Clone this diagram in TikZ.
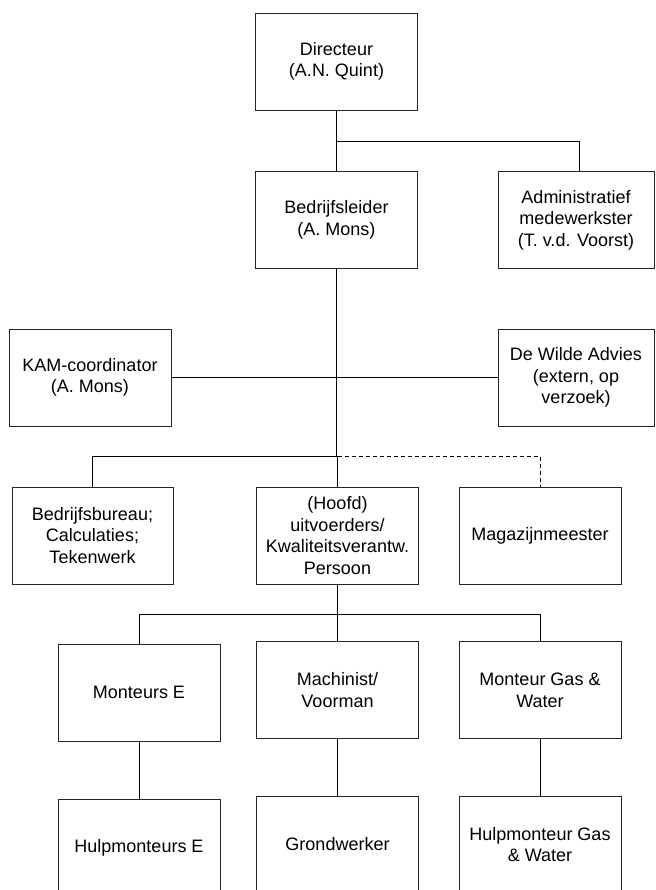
\documentclass[tikz,border=0pt]{standalone}
\usepackage{fontspec}
\setmainfont{Liberation Sans}
\begin{document}
\begin{tikzpicture}[x=1pt,y=-1pt,
  box/.style={draw=black!85, line width=0.9pt, minimum width=162pt, minimum height=97pt,
    align=center, inner sep=0pt, font=\fontsize{18}{21.6}\selectfont},
  conn/.style={draw=black, line width=0.9pt},
  dashconn/.style={draw=black, line width=0.9pt, dash pattern=on 4pt off 3pt}]
\useasboundingbox (0,0) rectangle (655,890);
% boxes
\node[box] (dir) at (336.5,61.5) {Directeur\\(A.N. Quint)};
\node[box] (bl)  at (336.5,220) {Bedrijfsleider\\(A. Mons)};
\node[box, minimum width=156pt] (adm) at (576,220) {Administratief\\medewerkster\\(T. v.d. Voorst)};
\node[box] (kam) at (90,377.5) {KAM-coordinator\\(A. Mons)};
\node[box, minimum width=156pt] (dw) at (576,377.5) {De Wilde Advies\\(extern, op\\verzoek)};
\node[box, minimum width=161pt] (bb) at (92.5,535.5) {Bedrijfsbureau;\\Calculaties;\\Tekenwerk};
\node[box] (hf) at (337.5,535.5) {(Hoofd)\\uitvoerders/\\Kwaliteitsverantw.\\Persoon};
\node[box] (mg) at (540,535.5) {Magazijnmeester};
\node[box] (me) at (139,692.5) {Monteurs E};
\node[box] (ma) at (337.5,690) {Machinist/\\Voorman};
\node[box] (mgw) at (540,690) {Monteur Gas \&\\Water};
\node[box] (hme) at (139,847.5) {Hulpmonteurs E};
\node[box] (gr) at (337.5,844.5) {Grondwerker};
\node[box] (hgw) at (540,844.5) {Hulpmonteur Gas\\\& Water};
% junctions
\coordinate (j1) at (336.5,141);
\coordinate (j2) at (336.5,377.5);
\coordinate (j3) at (337.5,456);
\coordinate (j4) at (337.5,614);
% connectors
\draw[conn] (dir.south) -- (bl.north);
\draw[conn] (j1) -| ([xshift=3pt]adm.north);
\draw[conn, line width=1.5pt] (bl.south) -- (j2);
\draw[conn] (j2) -- (j2 |- j3);
\draw[conn] (kam.east) -- (dw.west);
\draw[conn] (j3) -| (bb.north);
\draw[dashconn] (j3) -| (mg.north);
\draw[conn] (j3) -- (hf.north);
\draw[conn] (hf.south) -- (j4);
\draw[conn] (j4) -| (me.north);
\draw[conn] (j4) -| (mgw.north);
\draw[conn] (j4) -- (ma.north);
\draw[conn] (me.south) -- (hme.north);
\draw[conn] (ma.south) -- (gr.north);
\draw[conn] (mgw.south) -- (hgw.north);
\end{tikzpicture}
\end{document}
